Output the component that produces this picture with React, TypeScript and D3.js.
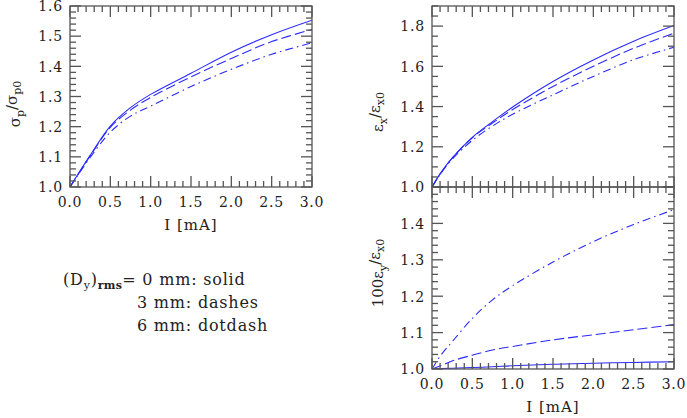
import React from 'react';
import * as d3 from 'd3';

// current I [mA]
const currents = [0, 0.1, 0.25, 0.5, 0.75, 1.0, 1.5, 2.0, 2.5, 3.0];

// sigma_p / sigma_p0
const sigmaSolid = [1.0, 1.043, 1.105, 1.202, 1.263, 1.307, 1.377, 1.447, 1.505, 1.553];
const sigmaDash = [1.0, 1.042, 1.103, 1.198, 1.255, 1.297, 1.365, 1.426, 1.482, 1.522];
const sigmaDotdash = [1.0, 1.04, 1.098, 1.182, 1.235, 1.268, 1.333, 1.390, 1.440, 1.478];

// eps_x / eps_x0
const epsxSolid = [1.0, 1.065, 1.145, 1.247, 1.325, 1.398, 1.525, 1.632, 1.725, 1.803];
const epsxDash = [1.0, 1.064, 1.143, 1.245, 1.318, 1.385, 1.50, 1.60, 1.69, 1.765];
const epsxDotdash = [1.0, 1.062, 1.138, 1.232, 1.303, 1.362, 1.458, 1.55, 1.633, 1.695];

// 100 eps_y / eps_x0
const epsySolid = [1.0, 1.001, 1.002, 1.004, 1.006, 1.009, 1.013, 1.016, 1.018, 1.020];
const epsyDash = [1.0, 1.008, 1.022, 1.038, 1.052, 1.062, 1.080, 1.094, 1.108, 1.122];
const epsyDotdash = [1.0, 1.035, 1.075, 1.139, 1.19, 1.229, 1.294, 1.35, 1.397, 1.438];

const xTickLabels = ['0.0', '0.5', '1.0', '1.5', '2.0', '2.5', '3.0'];

const BLUE = '#2a2aff';
const AXIS = '#555';
const TEXT = '#222';
const FONT = '"DejaVu Serif", serif';
const DASHES = { solid: undefined, dash: '10,4', dotdash: '8,4,1.5,4' } as const;

type PanelProps = {
  left: number; right: number; top: number; bottom: number;
  yDomain: [number, number]; yMajor: number; yMinor: number;
  yLabels: number[]; showX: boolean;
  series: { values: number[]; style: keyof typeof DASHES }[];
};

const Panel: React.FC<PanelProps> = ({ left, right, top, bottom, yDomain, yMajor, yMinor, yLabels, showX, series }) => {
  const x = d3.scaleLinear().domain([0, 3]).range([left, right]);
  const y = d3.scaleLinear().domain(yDomain).range([bottom, top]);
  const line = d3.line<number>()
    .x((_, i) => x(currents[i]))
    .y(d => y(d))
    .curve(d3.curveCatmullRom.alpha(0.5));

  const xMinor = d3.range(0, 3.0001, 0.1);
  const xMajor = d3.range(0, 3.0001, 0.5);
  const yMin = d3.range(yDomain[0], yDomain[1] + 1e-6, yMinor);
  const yMaj = d3.range(yDomain[0], yDomain[1] + 1e-6, yMajor);
  const MAJ = 11, MIN = 6;

  return (
    <g>
      <defs>
        <clipPath id={`clip-${top}-${left}`}>
          <rect x={left} y={top} width={right - left} height={bottom - top} />
        </clipPath>
      </defs>
      <g clipPath={`url(#clip-${top}-${left})`}>
        {series.map((s, i) => (
          <path key={i} d={line(s.values) || ''} fill="none" stroke={BLUE} strokeWidth={1.1}
            strokeDasharray={DASHES[s.style]} />
        ))}
      </g>
      <g stroke={AXIS} strokeWidth={1.3}>
        <rect x={left} y={top} width={right - left} height={bottom - top} fill="none" />
        {xMinor.map((v, i) => {
          const len = xMajor.some(m => Math.abs(m - v) < 1e-6) ? MAJ : MIN;
          return (
            <g key={`x${i}`}>
              <line x1={x(v)} x2={x(v)} y1={bottom} y2={bottom - len} />
              <line x1={x(v)} x2={x(v)} y1={top} y2={top + len} />
            </g>
          );
        })}
        {yMin.map((v, i) => {
          const len = yMaj.some(m => Math.abs(m - v) < 1e-6) ? MAJ : MIN;
          return (
            <g key={`y${i}`}>
              <line x1={left} x2={left + len} y1={y(v)} y2={y(v)} />
              <line x1={right} x2={right - len} y1={y(v)} y2={y(v)} />
            </g>
          );
        })}
      </g>
      <g fill={TEXT} fontFamily={FONT} fontSize={14} letterSpacing={0.8}>
        {yLabels.map((v, i) => (
          <text key={i} x={left - 7} y={y(v)} dy="0.38em" textAnchor="end">{v.toFixed(1)}</text>
        ))}
        {showX && xTickLabels.map((t, i) => (
          <text key={i} x={x(+t)} y={bottom + 20} textAnchor="middle">{t}</text>
        ))}
        {showX && (
          <text x={(left + right) / 2} y={bottom + 43} textAnchor="middle" fontSize={15} letterSpacing={1}>I [mA]</text>
        )}
      </g>
    </g>
  );
};

export default function App() {
  return (
    <svg width={687} height={418} style={{ position: 'absolute', left: 0, top: 0, background: '#fff' }}>
      <Panel left={70} right={312} top={6} bottom={187} yDomain={[1, 1.6]} yMajor={0.1} yMinor={0.02}
        yLabels={[1.0, 1.1, 1.2, 1.3, 1.4, 1.5, 1.6]} showX={true}
        series={[{ values: sigmaSolid, style: 'solid' }, { values: sigmaDash, style: 'dash' }, { values: sigmaDotdash, style: 'dotdash' }]} />
      <Panel left={432} right={674} top={6} bottom={187} yDomain={[1, 1.9]} yMajor={0.2} yMinor={0.05}
        yLabels={[1.0, 1.2, 1.4, 1.6, 1.8]} showX={false}
        series={[{ values: epsxSolid, style: 'solid' }, { values: epsxDash, style: 'dash' }, { values: epsxDotdash, style: 'dotdash' }]} />
      <Panel left={432} right={674} top={187} bottom={369} yDomain={[1, 1.5]} yMajor={0.1} yMinor={0.02}
        yLabels={[1.0, 1.1, 1.2, 1.3, 1.4]} showX={true}
        series={[{ values: epsySolid, style: 'solid' }, { values: epsyDash, style: 'dash' }, { values: epsyDotdash, style: 'dotdash' }]} />

      <g fill={TEXT} fontFamily={FONT} fontSize={15}>
        <text transform="translate(20,104) rotate(-90)" textAnchor="middle">
          σ<tspan fontSize={11} dy={4}>p</tspan><tspan dy={-7}>/</tspan>σ<tspan fontSize={11} dy={4}>p0</tspan>
        </text>
        <text transform="translate(383,112) rotate(-90)" textAnchor="middle">
          ε<tspan fontSize={11} dy={4}>x</tspan><tspan dy={-7}>/</tspan>ε<tspan fontSize={11} dy={4}>x0</tspan>
        </text>
        <text transform="translate(383,273) rotate(-90)" textAnchor="middle">
          100ε<tspan fontSize={11} dy={4}>y</tspan><tspan dy={-7}>/</tspan>ε<tspan fontSize={11} dy={4}>x0</tspan>
        </text>
      </g>

      <g fill={TEXT} fontFamily={FONT} fontSize={16} letterSpacing={0.8}>
        <text x={63} y={285}>
          (D<tspan fontSize={11} dy={4}>y</tspan><tspan dy={-4}>)</tspan><tspan fontSize={11} fontWeight="bold" dy={4} letterSpacing={0.3}>rms</tspan><tspan dy={-4}>= </tspan>0 mm: solid
        </text>
        <text x={137} y={308}>3 mm: dashes</text>
        <text x={137} y={331}>6 mm: dotdash</text>
      </g>
    </svg>
  );
}
